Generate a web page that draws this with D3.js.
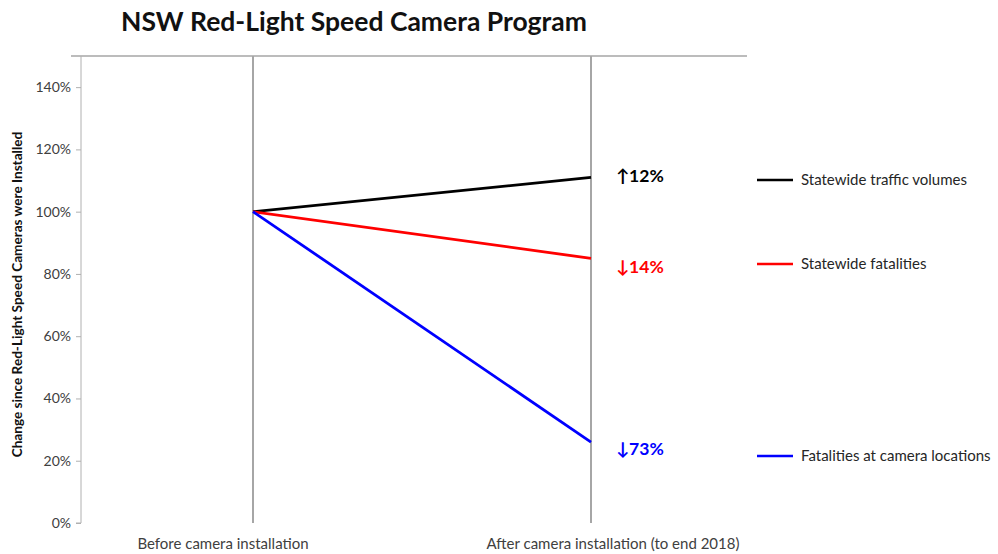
<!DOCTYPE html>
<html>
<head>
<meta charset="utf-8">
<script src="https://cdn.jsdelivr.net/npm/d3@7"></script>
<style>
  body { margin: 0; background: #fff; }
  text { font-family: Lato, "Open Sans", sans-serif; }
</style>
</head>
<body>
<div id="main"></div>
<script>
// data
const periods = ["Before camera installation", "After camera installation (to end 2018)"];
const seriesNames = ["Statewide traffic volumes", "Statewide fatalities", "Fatalities at camera locations"];
const seriesColors = ["#000000", "#ff0000", "#0000ff"];
const trafficValues = [100, 111];
const fatalityValues = [100, 85];
const cameraValues = [100, 26];
const changeLabels = ["↑12%", "↓14%", "↓73%"];
const yTicks = [0, 20, 40, 60, 80, 100, 120, 140];

const allValues = [trafficValues, fatalityValues, cameraValues];

const W = 998, H = 554;

const svg = d3.select("#main")
  .append("svg")
  .attr("width", W)
  .attr("height", H);

const x = d3.scalePoint()
  .domain(periods)
  .range([253, 591]);

const y = d3.scaleLinear()
  .domain([0, 150])
  .range([523, 56]);

// title
svg.append("text")
  .attr("x", 354)
  .attr("y", 31)
  .attr("text-anchor", "middle")
  .attr("font-size", "26.5px")
  .attr("font-weight", "bold")
  .attr("fill", "#111")
  .text("NSW Red-Light Speed Camera Program");

// top frame line
svg.append("line")
  .attr("x1", 71).attr("x2", 747)
  .attr("y1", y(150)).attr("y2", y(150))
  .attr("stroke", "#a6a6a6")
  .attr("stroke-width", 1.5);

// y axis
const yAxis = d3.axisLeft(y)
  .tickValues(yTicks)
  .tickSize(5)
  .tickFormat(d => d + "%");

const yg = svg.append("g")
  .attr("transform", "translate(81,0)")
  .call(yAxis);

yg.select(".domain")
  .attr("d", `M-5,${y(0)}H0V${y(150)}`)
  .attr("stroke", "#b0b0b0");
yg.selectAll(".tick line").attr("stroke", "#b0b0b0");
yg.selectAll(".tick text")
  .attr("x", -10)
  .attr("font-size", "14px")
  .attr("fill", "#404040")
  .style("font-family", "Lato, sans-serif");

svg.append("text")
  .attr("transform", `translate(22,${(y(0) + y(150)) / 2 + 5}) rotate(-90)`)
  .attr("text-anchor", "middle")
  .attr("font-size", "13.6px")
  .attr("font-weight", "bold")
  .attr("fill", "#111")
  .text("Change since Red-Light Speed Cameras were Installed");

// vertical period lines
svg.selectAll("line.period")
  .data(periods)
  .enter()
  .append("line")
  .attr("class", "period")
  .attr("x1", d => x(d)).attr("x2", d => x(d))
  .attr("y1", y(150)).attr("y2", y(0))
  .attr("stroke", "#a6a6a6")
  .attr("stroke-width", 2);

// period labels
const labelShift = [-30, 22];
svg.selectAll("text.period")
  .data(periods)
  .enter()
  .append("text")
  .attr("class", "period")
  .attr("x", (d, i) => x(d) + labelShift[i])
  .attr("y", 549)
  .attr("text-anchor", "middle")
  .attr("font-size", "15px")
  .attr("fill", "#404040")
  .text(d => d);

// series lines
const line = d3.line()
  .x((d, i) => x(periods[i]))
  .y(d => y(d));

svg.selectAll("path.series")
  .data(allValues)
  .enter()
  .append("path")
  .attr("class", "series")
  .attr("d", d => line(d))
  .attr("fill", "none")
  .attr("stroke", (d, i) => seriesColors[i])
  .attr("stroke-width", 2.8);

// change labels
const changeShift = [0, 10, 8];
svg.selectAll("text.change")
  .data(allValues)
  .enter()
  .append("text")
  .attr("class", "change")
  .attr("x", 616)
  .attr("y", (d, i) => y(d[1]) + changeShift[i] + 5)
  .attr("font-size", "17.5px")
  .attr("font-weight", "bold")
  .attr("fill", (d, i) => seriesColors[i])
  .text((d, i) => changeLabels[i]);

// legend
const legendY = [180, 264, 456];
const legend = svg.append("g").attr("id", "legend");

legend.selectAll("line")
  .data(seriesNames)
  .enter()
  .append("line")
  .attr("x1", 757).attr("x2", 793)
  .attr("y1", (d, i) => legendY[i]).attr("y2", (d, i) => legendY[i])
  .attr("stroke", (d, i) => seriesColors[i])
  .attr("stroke-width", 2.5);

legend.selectAll("text")
  .data(seriesNames)
  .enter()
  .append("text")
  .attr("x", 801)
  .attr("y", (d, i) => legendY[i] + 5)
  .attr("font-size", "15px")
  .attr("fill", "#262626")
  .text(d => d);
</script>
</body>
</html>
